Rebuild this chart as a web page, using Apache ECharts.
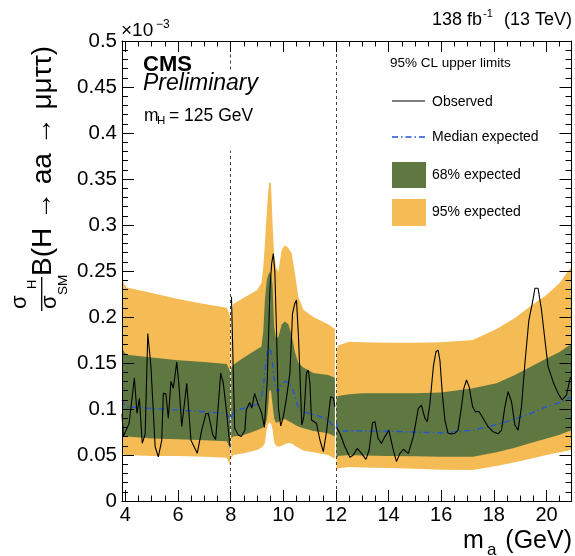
<!DOCTYPE html>
<html>
<head>
<meta charset="utf-8">
<script src="https://cdn.jsdelivr.net/npm/echarts@6.0.0/dist/echarts.min.js"></script>
<style>
  html, body { margin: 0; padding: 0; background: #fff; }
  #chart { width: 575px; height: 556px; }
</style>
</head>
<body>
<div id="chart"></div>
<script>
// ---------------- data ----------------
const xRange = [3.87, 20.95];
const boundaries = [8, 12];
const xTickLabels = [4, 6, 8, 10, 12, 14, 16, 18, 20];
const xMinorTicks = [4.5, 5, 5.5, 6.5, 7, 7.5, 8.5, 9, 9.5, 10.5, 11, 11.5, 12.5, 13, 13.5, 14.5, 15, 15.5, 16.5, 17, 17.5, 18.5, 19, 19.5, 20.5];

// region 1 (m_a < 8 GeV)
const bandX1 = [3.87, 3.95, 4.05, 5.0, 6.0, 7.0, 7.85, 7.93, 7.98];
const up95_1 = [0.244, 0.236, 0.232, 0.226, 0.2195, 0.214, 0.210, 0.205, 0.200];
const up68_1 = [0.168, 0.162, 0.159, 0.156, 0.153, 0.151, 0.149, 0.144, 0.140];
const med1   = [0.110, 0.105, 0.1025, 0.1005, 0.099, 0.097, 0.095, 0.089, 0.081];
const lo68_1 = [0.073, 0.071, 0.070, 0.068, 0.067, 0.066, 0.065, 0.060, 0.056];
const lo95_1 = [0.052, 0.050, 0.050, 0.049, 0.049, 0.048, 0.047, 0.042, 0.038];

// region 2 (8 - 12 GeV)
const bandX2 = [8.02, 8.1, 8.5, 9.0, 9.17, 9.24, 9.3, 9.37, 9.42, 9.47, 9.53, 9.59, 9.65, 9.72, 9.81, 9.94, 10.06, 10.19, 10.32, 10.44, 10.57, 10.76, 11.14, 11.7, 11.96];
const up95_2 = [0.204, 0.214, 0.221, 0.229, 0.237, 0.255, 0.28, 0.313, 0.335, 0.347, 0.345, 0.302, 0.268, 0.255, 0.249, 0.273, 0.278, 0.275, 0.269, 0.2475, 0.222, 0.208, 0.200, 0.192, 0.187];
const up68_2 = [0.144, 0.148, 0.156, 0.165, 0.168, 0.185, 0.2185, 0.24, 0.245, 0.249, 0.246, 0.235, 0.19, 0.177, 0.178, 0.192, 0.195, 0.192, 0.18, 0.162, 0.15, 0.145, 0.139, 0.137, 0.134];
const med2   = [0.09, 0.097, 0.101, 0.105, 0.113, 0.125, 0.14, 0.158, 0.168, 0.168, 0.163, 0.148, 0.133, 0.122, 0.119, 0.127, 0.13, 0.129, 0.124, 0.115, 0.101, 0.097, 0.094, 0.089, 0.078];
const lo68_2 = [0.068, 0.07, 0.0717, 0.077, 0.079, 0.08, 0.082, 0.088, 0.1, 0.12, 0.12, 0.105, 0.09, 0.085, 0.086, 0.088, 0.089, 0.087, 0.085, 0.083, 0.081, 0.079, 0.076, 0.0736, 0.07];
const lo95_2 = [0.046, 0.05, 0.052, 0.0555, 0.058, 0.06, 0.063, 0.078, 0.083, 0.086, 0.084, 0.078, 0.064, 0.06, 0.059, 0.06, 0.062, 0.063, 0.0625, 0.06, 0.058, 0.055, 0.053, 0.05, 0.046];

// region 3 (m_a > 12 GeV)
const bandX3 = [12.02, 12.08, 12.5, 13.0, 14.0, 15.0, 16.0, 17.2, 18.1, 18.8, 19.4, 20.0, 20.5, 20.95];
const up95_3 = [0.163, 0.169, 0.173, 0.1725, 0.172, 0.172, 0.1725, 0.175, 0.187, 0.199, 0.212, 0.224, 0.237, 0.255];
const up68_3 = [0.110, 0.114, 0.116, 0.117, 0.117, 0.117, 0.118, 0.1225, 0.128, 0.137, 0.146, 0.155, 0.162, 0.171];
const med3   = [0.085, 0.0755, 0.0764, 0.0762, 0.0758, 0.075, 0.074, 0.077, 0.083, 0.089, 0.095, 0.1025, 0.107, 0.113];
const lo68_3 = [0.045, 0.049, 0.050, 0.0495, 0.049, 0.0486, 0.048, 0.048, 0.053, 0.058, 0.063, 0.068, 0.072, 0.077];
const lo95_3 = [0.032, 0.0355, 0.037, 0.0365, 0.036, 0.035, 0.034, 0.0337, 0.038, 0.042, 0.046, 0.050, 0.053, 0.0554];

// observed limits
const obsX1 = [3.87, 3.92, 4.14, 4.34, 4.44, 4.53, 4.64, 4.75, 4.85, 4.97, 5.13, 5.25, 5.38, 5.44, 5.54, 5.63, 5.73, 5.82, 5.95, 6.04, 6.14, 6.33, 6.49, 6.73, 6.9, 7.06, 7.15, 7.32, 7.43, 7.62, 7.72, 7.85, 7.97];
const obsY1 = [0.095, 0.07, 0.0844, 0.134, 0.0953, 0.1116, 0.0627, 0.0728, 0.182, 0.146, 0.059, 0.048, 0.066, 0.117, 0.1166, 0.09, 0.13, 0.1225, 0.151, 0.124, 0.081, 0.128, 0.066, 0.052, 0.077, 0.095, 0.095, 0.072, 0.067, 0.139, 0.128, 0.095, 0.06];
const obsX2 = [8.03, 8.15, 8.29, 8.4, 8.54, 8.59, 8.72, 8.8, 8.91, 9.05, 9.18, 9.28, 9.39, 9.49, 9.556, 9.62, 9.68, 9.75, 9.81, 9.9, 10.0, 10.11, 10.25, 10.35, 10.44, 10.5, 10.57, 10.63, 10.7, 10.78, 10.88, 10.95, 11.01, 11.07, 11.17, 11.26, 11.39, 11.52, 11.64, 11.8, 11.9, 11.96];
const obsY2 = [0.222, 0.079, 0.0717, 0.07, 0.077, 0.099, 0.107, 0.101, 0.117, 0.1046, 0.0953, 0.08, 0.1315, 0.229, 0.258, 0.269, 0.2475, 0.175, 0.1025, 0.0815, 0.0917, 0.11, 0.139, 0.204, 0.215, 0.2185, 0.182, 0.139, 0.0826, 0.0917, 0.139, 0.1424, 0.128, 0.088, 0.0862, 0.0844, 0.0663, 0.0536, 0.075, 0.1134, 0.112, 0.1025];
const obsX3 = [12.0, 12.15, 12.34, 12.53, 12.66, 12.81, 12.97, 13.14, 13.26, 13.39, 13.48, 13.6, 13.73, 13.86, 14.01, 14.18, 14.3, 14.43, 14.56, 14.75, 14.94, 15.13, 15.25, 15.38, 15.47, 15.57, 15.7, 15.8, 15.88, 15.95, 16.04, 16.14, 16.26, 16.39, 16.52, 16.64, 16.77, 16.86, 16.96, 17.06, 17.19, 17.3, 17.44, 17.59, 17.78, 17.97, 18.16, 18.29, 18.42, 18.54, 18.67, 18.8, 18.92, 19.05, 19.18, 19.33, 19.46, 19.56, 19.68, 19.81, 19.94, 20.06, 20.25, 20.44, 20.59, 20.76, 20.91];
const obsY3 = [0.081, 0.0736, 0.059, 0.0475, 0.05, 0.0572, 0.0518, 0.0453, 0.0554, 0.0851, 0.0862, 0.068, 0.0627, 0.07, 0.077, 0.0554, 0.0428, 0.0518, 0.0562, 0.0518, 0.07, 0.1007, 0.1043, 0.0899, 0.0862, 0.106, 0.146, 0.1623, 0.164, 0.153, 0.117, 0.088, 0.0736, 0.073, 0.0736, 0.077, 0.1025, 0.1225, 0.1315, 0.1243, 0.1025, 0.0971, 0.0971, 0.0899, 0.0808, 0.0753, 0.073, 0.077, 0.1025, 0.1188, 0.108, 0.0826, 0.077, 0.1025, 0.1497, 0.1967, 0.2149, 0.2312, 0.2312, 0.2076, 0.175, 0.146, 0.1297, 0.117, 0.11, 0.1152, 0.135];

// ---------------- build ----------------
const FONT = '"Liberation Sans", Arial, Helvetica, sans-serif';
const YELLOW = '#F5BB54';
const GREEN = '#5F7842';
const BLUE = '#2152DC';

const regions = [
  { x: bandX1, up95: up95_1, up68: up68_1, med: med1, lo68: lo68_1, lo95: lo95_1 },
  { x: bandX2, up95: up95_2, up68: up68_2, med: med2, lo68: lo68_2, lo95: lo95_2 },
  { x: bandX3, up95: up95_3, up68: up68_3, med: med3, lo68: lo68_3, lo95: lo95_3 }
];
const observed = [[obsX1, obsY1], [obsX2, obsY2], [obsX3, obsY3]];

function joinWithBreaks(parts) {
  const out = [];
  parts.forEach((p, i) => {
    if (i > 0) out.push([boundaries[i - 1], null]);
    p[0].forEach((x, j) => out.push([x, p[1][j]]));
  });
  return out;
}
const medianData = joinWithBreaks(regions.map(r => [r.x, r.med]));
const observedData = joinWithBreaks(observed);

function bandSeries(name, lowKey, upKey, color) {
  return {
    type: 'custom',
    name: name,
    coordinateSystem: 'cartesian2d',
    silent: true,
    clip: true,
    z: 1,
    encode: { x: 0, y: 1 },
    data: regions.map(r => [r.x[0], r[lowKey][0]]),
    renderItem: function (params, api) {
      const r = regions[params.dataIndex];
      const pts = [];
      for (let i = 0; i < r.x.length; i++) pts.push(api.coord([r.x[i], r[upKey][i]]));
      for (let i = r.x.length - 1; i >= 0; i--) pts.push(api.coord([r.x[i], r[lowKey][i]]));
      return { type: 'polygon', shape: { points: pts }, style: { fill: color, stroke: null } };
    }
  };
}

const axisLineStyle = { show: true, onZero: false, lineStyle: { color: '#000', width: 1 } };

function xAxisDef(pos, ticks, len, withLabels, withLine) {
  return {
    type: 'value', position: pos, min: xRange[0], max: xRange[1], z: 5,
    axisLine: withLine ? axisLineStyle : { show: false, onZero: false },
    splitLine: { show: false },
    axisTick: { show: true, inside: true, length: len, customValues: ticks, lineStyle: { color: '#000', width: 1 } },
    axisLabel: withLabels ? {
      show: true, customValues: xTickLabels, color: '#000', fontSize: 20, fontFamily: FONT, margin: 4
    } : { show: false }
  };
}
function yAxisDef(pos, withLabels) {
  return {
    type: 'value', position: pos, min: 0, max: 0.5, interval: 0.05, z: 5,
    axisLine: axisLineStyle,
    splitLine: { show: false },
    axisTick: { show: true, inside: true, length: 12, lineStyle: { color: '#000', width: 1 } },
    minorTick: { show: true, splitNumber: 5, length: 6, lineStyle: { color: '#000', width: 1 } },
    axisLabel: withLabels ? { show: true, color: '#000', fontSize: 20.5, fontFamily: FONT, margin: 5 } : { show: false }
  };
}

function txt(x, y, text, font, extra) {
  return {
    type: 'text', x: x, y: y, z: 10,
    style: Object.assign({
      text: text, font: font, fill: '#000',
      textAlign: 'left', textVerticalAlign: 'middle', align: 'left', verticalAlign: 'middle'
    }, extra || {})
  };
}
function vtxt(x, y, text, font) {
  const t = txt(x, y, text, font);
  t.rotation = Math.PI / 2;
  return t;
}

const graphics = [
  // top-left exponent
  txt(121, 31, '\u00D710', '19px ' + FONT),
  txt(156, 25, '\u22123', '12px ' + FONT),
  // top right luminosity
  txt(482, 20, '138 fb', '18px ' + FONT, { textAlign: 'right', align: 'right' }),
  txt(483, 14, '-1', '11px ' + FONT),
  txt(572, 20, '(13 TeV)', '18px ' + FONT, { textAlign: 'right', align: 'right' }),
  // CMS labels
  txt(143, 65, 'CMS', 'bold 22px ' + FONT),
  txt(143, 84, 'Preliminary', 'italic 23px ' + FONT),
  txt(144, 116, 'm', '17.5px ' + FONT),
  txt(157, 121, 'H', '11.5px ' + FONT),
  txt(169, 116, '= 125 GeV', '17.5px ' + FONT),
  // legend
  txt(390, 63, '95% CL upper limits', '13.5px ' + FONT),
  { type: 'line', z: 10, shape: { x1: 392, y1: 101, x2: 425, y2: 101 }, style: { stroke: '#000', lineWidth: 1.2 } },
  txt(432, 102, 'Observed', '14px ' + FONT),
  { type: 'line', z: 10, shape: { x1: 392, y1: 137, x2: 425, y2: 137 }, style: { stroke: BLUE, lineWidth: 1.3, lineDash: [6, 3, 1.5, 3] } },
  txt(432, 137.5, 'Median expected', '14px ' + FONT),
  { type: 'rect', z: 10, shape: { x: 392, y: 162, width: 34, height: 26 }, style: { fill: GREEN } },
  txt(432, 175.5, '68% expected', '14px ' + FONT),
  { type: 'rect', z: 10, shape: { x: 392, y: 199, width: 34, height: 27 }, style: { fill: YELLOW } },
  txt(432, 212.5, '95% expected', '14px ' + FONT),
  // x axis title
  txt(463, 541, 'm', '25px ' + FONT),
  txt(487, 550, 'a', '17px ' + FONT),
  txt(572, 541, '(GeV)', '25px ' + FONT, { textAlign: 'right', align: 'right' }),
  // y axis title (rotated)
  vtxt(43, 276, 'B(H \u2192 aa \u2192 \u03BC\u03BC\u03C4\u03C4)', '28px ' + FONT),
  vtxt(19.5, 309, '\u03C3', '22px ' + FONT),
  vtxt(32.5, 289, 'H', '13px ' + FONT),
  { type: 'line', z: 10, shape: { x1: 41.7, y1: 277, x2: 41.7, y2: 311 }, style: { stroke: '#000', lineWidth: 1.3 } },
  vtxt(49.5, 309, '\u03C3', '22px ' + FONT),
  vtxt(63.3, 295, 'SM', '13.5px ' + FONT)
];

const option = {
  animation: false,
  backgroundColor: '#fff',
  grid: { left: 122, right: 3.5, top: 41, bottom: 55, containLabel: false },
  xAxis: [
    xAxisDef('bottom', xTickLabels, 11, true, true),
    xAxisDef('bottom', xMinorTicks, 5.5, false, false),
    xAxisDef('top', xTickLabels, 11, false, true),
    xAxisDef('top', xMinorTicks, 5.5, false, false)
  ],
  yAxis: [yAxisDef('left', true), yAxisDef('right', false)],
  graphic: graphics,
  series: [
    bandSeries('95% expected', 'lo95', 'up95', YELLOW),
    bandSeries('68% expected', 'lo68', 'up68', GREEN),
    {
      type: 'line', name: 'Median expected', data: medianData, showSymbol: false, symbol: 'none',
      connectNulls: false, silent: true, z: 3,
      lineStyle: { color: BLUE, width: 1.3, type: [6, 3, 1.5, 3] }
    },
    {
      type: 'line', name: 'Observed', data: observedData, showSymbol: false, symbol: 'none',
      connectNulls: false, silent: true, z: 4,
      lineStyle: { color: '#000', width: 1.1 },
      markLine: {
        silent: true, symbol: ['none', 'none'], label: { show: false },
        lineStyle: { color: '#444', width: 1, type: [3, 3] },
        data: [
          [{ coord: [boundaries[0], 0] }, { coord: [boundaries[0], 0.381] }],
          [{ coord: [boundaries[0], 0.469] }, { coord: [boundaries[0], 0.5] }],
          [{ coord: [boundaries[1], 0] }, { coord: [boundaries[1], 0.5] }]
        ]
      }
    }
  ]
};

const chart = echarts.init(document.getElementById('chart'), null, { renderer: 'canvas' });
chart.setOption(option);
</script>
</body>
</html>
